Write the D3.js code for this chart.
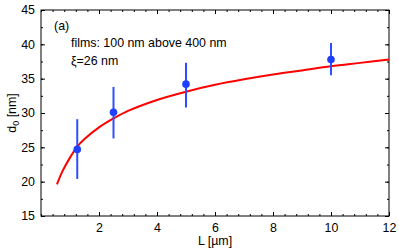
<!DOCTYPE html>
<html>
<head>
<meta charset="utf-8">
<script src="https://cdn.jsdelivr.net/npm/d3@7"></script>
<style>
  body { margin: 0; background: #fff; }
  text { font-family: "Liberation Sans", Arial, sans-serif; }
</style>
</head>
<body>
<div id="chart"></div>
<script>
// measured points
var lengths = [1.25, 2.5, 5, 10];
var d0 = [24.7, 30.1, 34.2, 37.8];
var errLow = [20.4, 26.3, 30.8, 35.5];
var errHigh = [29.1, 33.8, 37.3, 40.2];

// fit curve
var fitL = [0.55, 0.75, 1.0, 1.25, 1.5, 2.0, 2.5, 3.0, 4.0, 5.0, 6.0, 7.0, 8.0, 9.0, 10.0, 11.0, 12.0];
var fitD = [19.6, 21.6, 23.5, 25.1, 26.2, 27.9, 29.2, 30.3, 31.9, 33.1, 34.1, 34.9, 35.6, 36.2, 36.8, 37.3, 37.8];

var xTicks = [2, 4, 6, 8, 10, 12];
var yTicks = [15, 20, 25, 30, 35, 40, 45];

var margin = {top: 10, right: 10, bottom: 33, left: 41},
    width = 399 - margin.left - margin.right,
    height = 249 - margin.top - margin.bottom;

var svg = d3.select("#chart")
  .append("svg")
    .attr("width", 399)
    .attr("height", 249)
  .append("g")
    .attr("transform", "translate(" + margin.left + "," + margin.top + ")");

var x = d3.scaleLinear().domain([0, 12]).range([0, width]);
var y = d3.scaleLinear().domain([15, 45]).range([height, 0]);

// minor ticks (inward, all four sides)
var xMinor = d3.range(0, 12.01, 0.4);
var yMinor = d3.range(15, 45.01, 2.5);

function tickStyle(g) {
  g.select(".domain").remove();
  g.selectAll("line").attr("stroke", "#000").attr("stroke-width", 1);
}

svg.append("g").attr("transform", "translate(0," + height + ")")
  .call(d3.axisBottom(x).tickValues(xMinor).tickSize(-2).tickFormat(""))
  .call(tickStyle);
svg.append("g")
  .call(d3.axisTop(x).tickValues(xMinor).tickSize(-2).tickFormat(""))
  .call(tickStyle);
svg.append("g")
  .call(d3.axisLeft(y).tickValues(yMinor).tickSize(-2).tickFormat(""))
  .call(tickStyle);
svg.append("g").attr("transform", "translate(" + width + ",0)")
  .call(d3.axisRight(y).tickValues(yMinor).tickSize(-2).tickFormat(""))
  .call(tickStyle);

// major ticks
svg.append("g").attr("transform", "translate(0," + height + ")")
  .call(d3.axisBottom(x).tickValues(xTicks).tickSize(-4).tickPadding(7))
  .call(tickStyle)
  .call(g => g.selectAll("text").attr("font-size", 12.4).attr("fill", "#000")
    .attr("font-family", "Liberation Sans, Arial, sans-serif"));
svg.append("g")
  .call(d3.axisTop(x).tickValues(xTicks).tickSize(-4).tickFormat(""))
  .call(tickStyle);
svg.append("g")
  .call(d3.axisLeft(y).tickValues(yTicks).tickSize(-4).tickPadding(6))
  .call(tickStyle)
  .call(g => g.selectAll("text").attr("font-size", 12.4).attr("fill", "#000")
    .attr("font-family", "Liberation Sans, Arial, sans-serif"));
svg.append("g").attr("transform", "translate(" + width + ",0)")
  .call(d3.axisRight(y).tickValues(yTicks).tickSize(-4).tickFormat(""))
  .call(tickStyle);

// frame
svg.append("rect")
  .attr("width", width).attr("height", height)
  .attr("fill", "none").attr("stroke", "#000").attr("stroke-width", 1);

// fit line
var line = d3.line()
  .x(function (d, i) { return x(fitL[i]); })
  .y(function (d) { return y(d); })
  .curve(d3.curveCatmullRom);
svg.append("path")
  .datum(fitD)
  .attr("d", line)
  .attr("fill", "none")
  .attr("stroke", "#ff0000")
  .attr("stroke-width", 2);

// error bars
svg.append("g").selectAll("line")
  .data(lengths)
  .join("line")
    .attr("x1", function (d) { return x(d); })
    .attr("x2", function (d) { return x(d); })
    .attr("y1", function (d, i) { return y(errLow[i]); })
    .attr("y2", function (d, i) { return y(errHigh[i]); })
    .attr("stroke", "#2f4cff")
    .attr("stroke-width", 2);

// points
svg.append("g").selectAll("circle")
  .data(lengths)
  .join("circle")
    .attr("cx", function (d) { return x(d); })
    .attr("cy", function (d, i) { return y(d0[i]); })
    .attr("r", 3.8)
    .attr("fill", "#1f3fff");

// annotations
svg.append("text").attr("x", 13).attr("y", 20).attr("font-size", 12.4).text("(a)");
svg.append("text").attr("x", 30).attr("y", 37).attr("font-size", 12.4).text("films: 100 nm above 400 nm");
svg.append("text").attr("x", 30).attr("y", 55).attr("font-size", 12.4).text("ξ=26 nm");

// axis labels
svg.append("text")
  .attr("x", width / 2).attr("y", height + 29)
  .attr("text-anchor", "middle").attr("font-size", 12.4)
  .text("L [µm]");

var yl = svg.append("text")
  .attr("transform", "translate(-25," + (height / 2) + ") rotate(-90)")
  .attr("text-anchor", "middle").attr("font-size", 12.4);
yl.append("tspan").text("d");
yl.append("tspan").attr("font-size", 9).attr("dy", 3).text("0");
yl.append("tspan").attr("dy", -3).text(" [nm]");
</script>
</body>
</html>
